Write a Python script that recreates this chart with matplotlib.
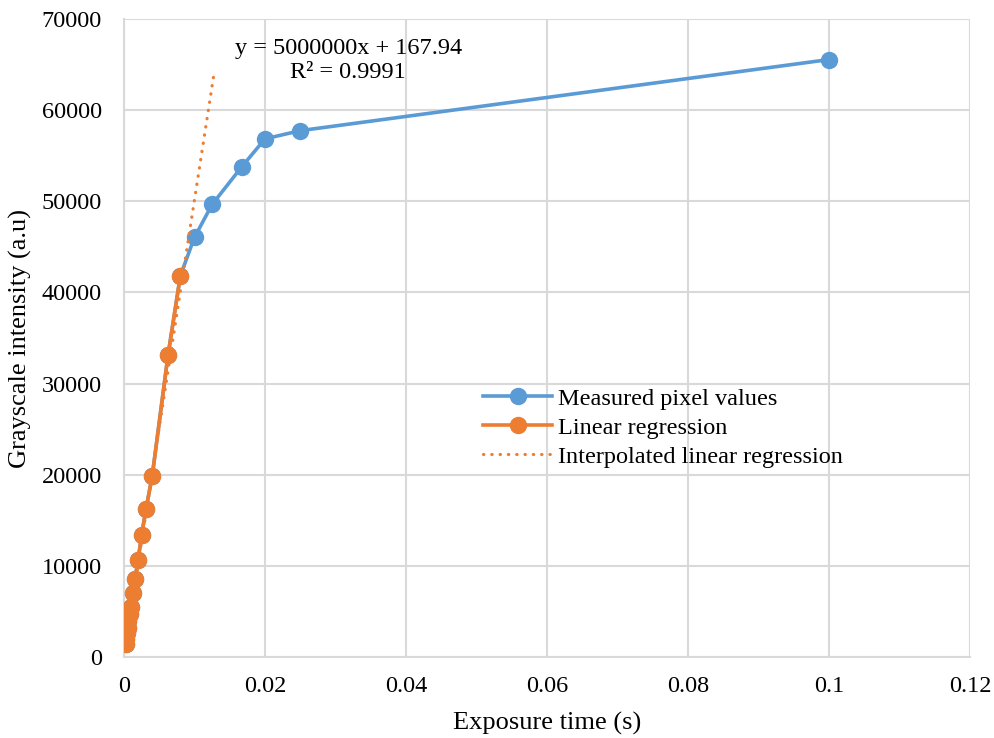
import matplotlib
matplotlib.use("Agg")
import matplotlib.pyplot as plt
import numpy as np

# Exposure times (s) and measured grayscale intensity (a.u)
exposure = [0.00025, 0.0003125, 0.0004, 0.0005, 0.000625, 0.0008, 0.001,
            0.00125, 0.0015625, 0.002, 0.0025, 0.003125, 0.004, 0.00625,
            0.008, 0.01, 0.0125, 0.0166667, 0.02, 0.025, 0.1]
intensity = [1400, 2000, 2600, 3200, 3900, 4700, 5500,
             7000, 8550, 10650, 13400, 16250, 19850, 33150,
             41850, 46050, 49650, 53750, 56850, 57750, 65550]

# Points in the linear range (used for the regression)
n_linear = 15
lin_x = exposure[:n_linear]
lin_y = intensity[:n_linear]

# Regression line as reported in the equation label
slope = 5000000
intercept = 167.94
r_squared = 0.9991
trend_x_end = 0.0127

blue = "#5B9BD5"
orange = "#ED7D31"
grid_c = "#D9D9D9"

plt.rcParams["font.family"] = ["Liberation Serif", "DejaVu Serif"]

fig = plt.figure(figsize=(9.95, 7.38), dpi=100)
ax = fig.add_axes([124 / 995, 1 - 657 / 738, (970 - 124) / 995, (657 - 19) / 738])

ax.plot(exposure, intensity, color=blue, lw=2.6, marker="o", ms=11.5,
        label="Measured pixel values", zorder=3)
ax.plot(lin_x, lin_y, color=orange, lw=2.6, marker="o", ms=11.5,
        label="Linear regression", zorder=4)
tx = np.array([lin_x[0], trend_x_end])
ax.plot(tx, slope * tx + intercept, color=orange, lw=2.3, ls=(0, (0.1, 2.5)),
        dash_capstyle="round", label="Interpolated linear regression",
        zorder=5)

ax.text(0.0318, 65450, f"y = {slope}x + {intercept}\nR² = {r_squared}",
        ha="center", va="center", fontsize=17.5, linespacing=1.22)

ax.set_xlim(0, 0.12)
ax.set_ylim(0, 70000)
ax.set_xticks(np.arange(0, 0.121, 0.02))
ax.set_xticklabels(["0", "0.02", "0.04", "0.06", "0.08", "0.1", "0.12"])
ax.set_yticks(np.arange(0, 70001, 10000))
ax.grid(True, color=grid_c, lw=1.5)
ax.set_axisbelow(True)
for side in ["top", "right"]:
    ax.spines[side].set_visible(False)
for side in ["left", "bottom"]:
    ax.spines[side].set_color(grid_c)
    ax.spines[side].set_linewidth(1.5)
ax.tick_params(axis="y", length=0, labelsize=17.5, pad=16)
ax.tick_params(axis="x", length=0, labelsize=17.5, pad=13.5)

ax.set_xlabel("Exposure time (s)", fontsize=19, labelpad=11)
ax.set_ylabel("Grayscale intensity (a.u)", fontsize=19, labelpad=7)

ax.legend(loc="upper left", bbox_to_anchor=(0.4243, 0.422), frameon=False,
          fontsize=17.5, handlelength=2.85, handletextpad=0.25,
          labelspacing=0.29, borderaxespad=0, borderpad=0)

fig.savefig("out.png", dpi=100)
